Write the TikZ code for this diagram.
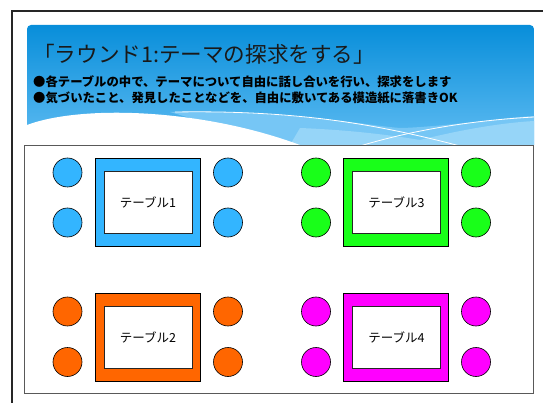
\documentclass[tikz,border=0pt]{standalone}
\usepackage{fontspec}
\newfontfamily\cjk{Noto Sans CJK JP}
\definecolor{hdrTop}{RGB}{8,142,218}
\definecolor{hdrBot}{RGB}{95,188,242}
\definecolor{waveMid}{RGB}{118,198,245}
\definecolor{waveLight}{RGB}{150,213,248}
\definecolor{tblue}{RGB}{51,181,255}
\definecolor{tgreen}{RGB}{25,255,25}
\definecolor{torange}{RGB}{255,102,0}
\definecolor{tmagenta}{RGB}{255,0,255}
\definecolor{titlecol}{RGB}{25,25,25}
\tikzset{
  seat/.style={circle, draw=black, line width=0.6pt, minimum size=29pt, inner sep=0pt},
  tableouter/.style={draw=black, line width=0.8pt, minimum width=105pt, minimum height=88pt, inner sep=0pt},
  tableinner/.style={draw=black!85, fill=white, line width=0.8pt, minimum width=88pt, minimum height=62pt, inner sep=0pt,
    font=\cjk\fontsize{12.5}{14}\selectfont},
  bullettext/.style={anchor=west, inner sep=0pt, font=\cjk\bfseries\fontsize{12.35}{14}\selectfont, text=black},
}
\begin{document}
\begin{tikzpicture}[x=1pt,y=-1pt]
\useasboundingbox (0,0) rectangle (543,403);
\begin{scope}
\clip (0,0) rectangle (543,403);
% slide border
\draw[line width=1.6pt, black!85] (12,11) rectangle (560,420);
% header band
\shade[top color=hdrTop, bottom color=hdrBot] (27,145) [rounded corners=4pt] -- (27,25) -- (534,25) [sharp corners] -- (534,145) -- cycle;
% wave bands
\fill[waveMid] (170,112) .. controls (300,110) and (380,128) .. (403,128) .. controls (450,126) and (500,118) .. (534,116) -- (534,145) -- (280,145) -- cycle;
\fill[waveLight] (300,128) .. controls (350,130) and (390,135) .. (420,140) .. controls (460,130) and (500,123) .. (534,121) -- (534,145) -- (290,145) -- cycle;
\fill[white] (27,125) .. controls (80,105) and (200,108) .. (300,145) -- (27,145) -- cycle;
\draw[white, line width=0.8pt] (175,112) .. controls (300,110) and (380,125) .. (460,146);
\draw[white, line width=0.8pt] (360,146) .. controls (420,128) and (480,120) .. (534,117);
\end{scope}
% title and bullets
\node[anchor=west, inner sep=0pt, text=titlecol, font=\cjk\fontsize{21.6}{24}\selectfont] (title) at (33,54) {「ラウンド1:テーマの探求をする」};
\node[bullettext] (b1) at (33,82) {●各テーブルの中で、テーマについて自由に話し合いを行い、探求をします};
\node[bullettext] (b2) at (33,98) {●気づいたこと、発見したことなどを、自由に敷いてある模造紙に落書きOK};
% white room
\draw[fill=white, draw=black!65, line width=0.8pt] (24,145) rectangle (533,393);
% table 1
\node[tableouter, fill=tblue] (t1o) at (148,202) {};
\node[tableinner] (t1) at (148,202) {テーブル1};
\node[seat, fill=tblue] (s1a) at (67.5,172.5) {};
\node[seat, fill=tblue] (s1b) at (67.5,222.5) {};
\node[seat, fill=tblue] (s1c) at (228,172.5) {};
\node[seat, fill=tblue] (s1d) at (228,222.5) {};
% table 3
\node[tableouter, fill=tgreen] (t3o) at (396,202) {};
\node[tableinner] (t3) at (396.5,202) {テーブル3};
\node[seat, fill=tgreen] (s3a) at (316,172.5) {};
\node[seat, fill=tgreen] (s3b) at (316,222.5) {};
\node[seat, fill=tgreen] (s3c) at (476,172.5) {};
\node[seat, fill=tgreen] (s3d) at (476,222.5) {};
% table 2
\node[tableouter, fill=torange] (t2o) at (148,337) {};
\node[tableinner] (t2) at (148,337) {テーブル2};
\node[seat, fill=torange] (s2a) at (67.5,311.5) {};
\node[seat, fill=torange] (s2b) at (67.5,362) {};
\node[seat, fill=torange] (s2c) at (228,311.5) {};
\node[seat, fill=torange] (s2d) at (228,362) {};
% table 4
\node[tableouter, fill=tmagenta] (t4o) at (396,337) {};
\node[tableinner] (t4) at (396.5,337) {テーブル4};
\node[seat, fill=tmagenta] (s4a) at (316,311.5) {};
\node[seat, fill=tmagenta] (s4b) at (316,362) {};
\node[seat, fill=tmagenta] (s4c) at (476,311.5) {};
\node[seat, fill=tmagenta] (s4d) at (476,362) {};
\end{tikzpicture}
\end{document}
